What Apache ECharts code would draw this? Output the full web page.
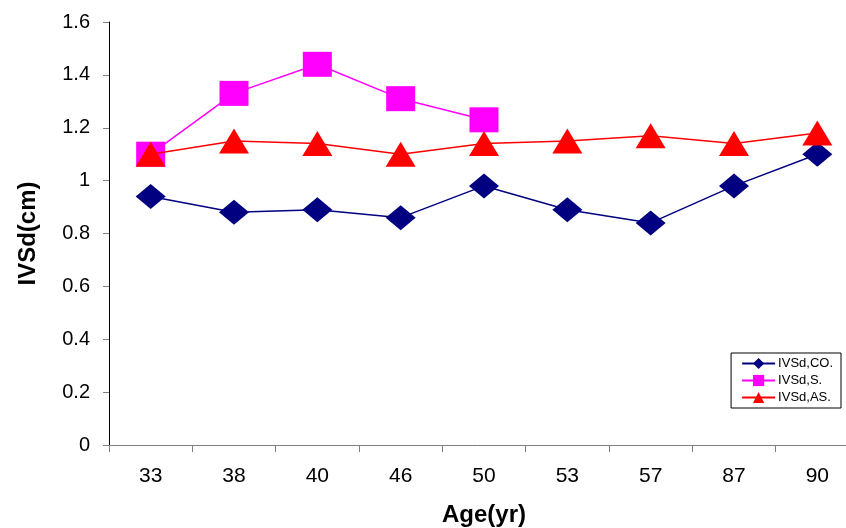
<!DOCTYPE html>
<html>
<head>
<meta charset="utf-8">
<script src="https://cdn.jsdelivr.net/npm/echarts@6/dist/echarts.min.js"></script>
<style>
  html, body { margin: 0; padding: 0; background: #fff; }
  #chart { width: 846px; height: 528px; }
</style>
</head>
<body>
<div id="chart"></div>
<script>
var ages = ['33', '38', '40', '46', '50', '53', '57', '87', '90'];
var ivsdCO = [0.94, 0.88, 0.89, 0.86, 0.98, 0.89, 0.84, 0.98, 1.10];
var ivsdS = [1.10, 1.33, 1.44, 1.31, 1.23, null, null, null, null];
var ivsdAS = [1.10, 1.15, 1.14, 1.10, 1.14, 1.15, 1.17, 1.14, 1.18];

var chart = echarts.init(document.getElementById('chart'));

var font = 'Liberation Sans, Arial, sans-serif';

var option = {
    animation: false,
    legend: {
        orient: 'vertical',
        right: 5,
        top: 353,
        borderColor: '#000',
        borderWidth: 1,
        borderRadius: 0,
        padding: [4, 8, 4, 10],
        itemGap: 4,
        itemWidth: 33,
        itemHeight: 14,
        textStyle: { fontFamily: font, fontSize: 13, color: '#000', padding: [0, 0, 0, -2] },
        data: ['IVSd,CO.', 'IVSd,S.', 'IVSd,AS.']
    },
    grid: {
        left: 109,
        width: 750,
        top: 22,
        bottom: 83,
        containLabel: false,
        outerBoundsMode: 'none'
    },
    xAxis: {
        type: 'category',
        data: ages,
        boundaryGap: true,
        name: 'Age(yr)',
        nameLocation: 'middle',
        nameGap: 58,
        nameTextStyle: { fontFamily: font, fontSize: 24, fontWeight: 'bold', color: '#000' },
        axisLine: { lineStyle: { color: '#808080', width: 1 } },
        axisTick: { show: true, alignWithLabel: false, length: 7, lineStyle: { color: '#808080' } },
        axisLabel: { fontFamily: font, fontSize: 21, color: '#000', margin: 21 },
        splitLine: { show: false }
    },
    yAxis: {
        type: 'value',
        min: 0,
        max: 1.6,
        interval: 0.2,
        name: 'IVSd(cm)',
        nameLocation: 'middle',
        nameGap: 69,
        nameRotate: 90,
        nameTextStyle: { fontFamily: font, fontSize: 24, fontWeight: 'bold', color: '#000' },
        axisLine: { show: true, lineStyle: { color: '#000', width: 1 } },
        axisTick: { show: true, length: 6, lineStyle: { color: '#808080' } },
        axisLabel: { fontFamily: font, fontSize: 20, color: '#000', margin: 19 },
        splitLine: { show: false }
    },
    series: [
        {
            name: 'IVSd,CO.',
            type: 'line',
            data: ivsdCO,
            symbol: 'diamond',
            symbolSize: [30, 25],
            color: '#000080',
            lineStyle: { color: '#000080', width: 1.5 },
            itemStyle: { color: '#000080' },
            z: 3
        },
        {
            name: 'IVSd,S.',
            type: 'line',
            data: ivsdS,
            symbol: 'rect',
            symbolSize: [29, 25],
            color: '#ff00ff',
            lineStyle: { color: '#ff00ff', width: 1.5 },
            itemStyle: { color: '#ff00ff' },
            z: 2
        },
        {
            name: 'IVSd,AS.',
            type: 'line',
            data: ivsdAS,
            symbol: 'triangle',
            symbolSize: [30, 25],
            color: '#ff0000',
            lineStyle: { color: '#ff0000', width: 1.5 },
            itemStyle: { color: '#ff0000' },
            z: 4
        }
    ]
};

chart.setOption(option);
</script>
</body>
</html>
